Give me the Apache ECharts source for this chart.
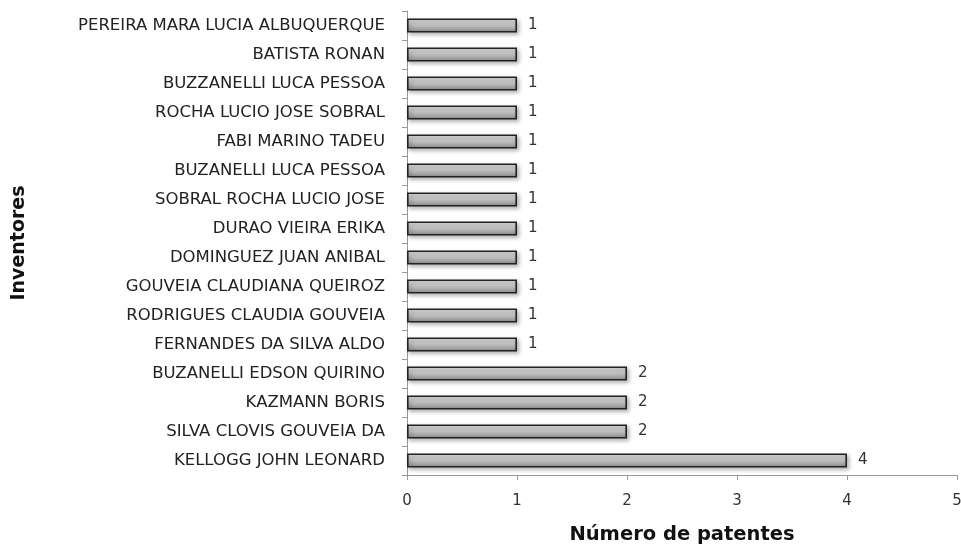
<!DOCTYPE html>
<html><head><meta charset="utf-8">
<script src="https://cdn.jsdelivr.net/npm/echarts@6/dist/echarts.min.js"></script>
<style>html,body{margin:0;padding:0;background:#fff}#c{width:961px;height:547px}</style>
</head><body><div id="c"></div>
<script>
const categories = [
  "KELLOGG JOHN LEONARD",
  "SILVA CLOVIS GOUVEIA DA",
  "KAZMANN BORIS",
  "BUZANELLI EDSON QUIRINO",
  "FERNANDES DA SILVA ALDO",
  "RODRIGUES CLAUDIA GOUVEIA",
  "GOUVEIA CLAUDIANA QUEIROZ",
  "DOMINGUEZ JUAN ANIBAL",
  "DURAO VIEIRA ERIKA",
  "SOBRAL ROCHA LUCIO JOSE",
  "BUZANELLI LUCA PESSOA",
  "FABI MARINO TADEU",
  "ROCHA LUCIO JOSE SOBRAL",
  "BUZZANELLI LUCA PESSOA",
  "BATISTA RONAN",
  "PEREIRA MARA LUCIA ALBUQUERQUE"
];
const values = [4, 2, 2, 2, 1, 1, 1, 1, 1, 1, 1, 1, 1, 1, 1, 1];
const xTicks = [0, 1, 2, 3, 4, 5];

const font = "'DejaVu Sans', 'Open Sans', sans-serif";
const chart = echarts.init(document.getElementById('c'));
chart.setOption({
  animation: false,
  grid: { left: 407, right: 4, top: 11, bottom: 72, containLabel: false, outerBoundsMode: 'none' },
  xAxis: {
    type: 'value', min: xTicks[0], max: xTicks[xTicks.length - 1], interval: 1,
    name: 'Número de patentes', nameLocation: 'middle', nameGap: 50,
    nameTextStyle: { fontFamily: font, fontWeight: 'bold', fontSize: 19.5, color: '#111' },
    axisLine: { show: true, lineStyle: { color: '#999', width: 1 } },
    axisTick: { show: true, length: 5, lineStyle: { color: '#999' } },
    axisLabel: { fontFamily: font, fontSize: 15, color: '#333', margin: 19 },
    splitLine: { show: false }
  },
  yAxis: {
    type: 'category', data: categories,
    name: 'Inventores', nameLocation: 'middle', nameGap: 378, nameRotate: 90,
    nameTextStyle: { fontFamily: font, fontWeight: 'bold', fontSize: 19, color: '#111' },
    axisLine: { show: true, lineStyle: { color: '#999', width: 1 } },
    axisTick: { show: true, length: 5, alignWithLabel: false, lineStyle: { color: '#999' } },
    axisLabel: { fontFamily: font, fontSize: 16.5, color: '#222', margin: 22 }
  },
  series: [{
    type: 'bar', data: values, barWidth: 14,
    itemStyle: {
      color: new echarts.graphic.LinearGradient(0, 0, 0, 1, [
        { offset: 0, color: '#dedede' },
        { offset: 0.45, color: '#c4c4c4' },
        { offset: 1, color: '#8a8a8a' }
      ]),
      borderColor: '#222', borderWidth: 1.6,
      shadowColor: 'rgba(0,0,0,0.3)', shadowBlur: 4, shadowOffsetX: 2, shadowOffsetY: 2
    },
    label: { show: true, position: 'right', distance: 11, fontFamily: font, fontSize: 15, color: '#333' }
  }]
});
</script></body></html>
